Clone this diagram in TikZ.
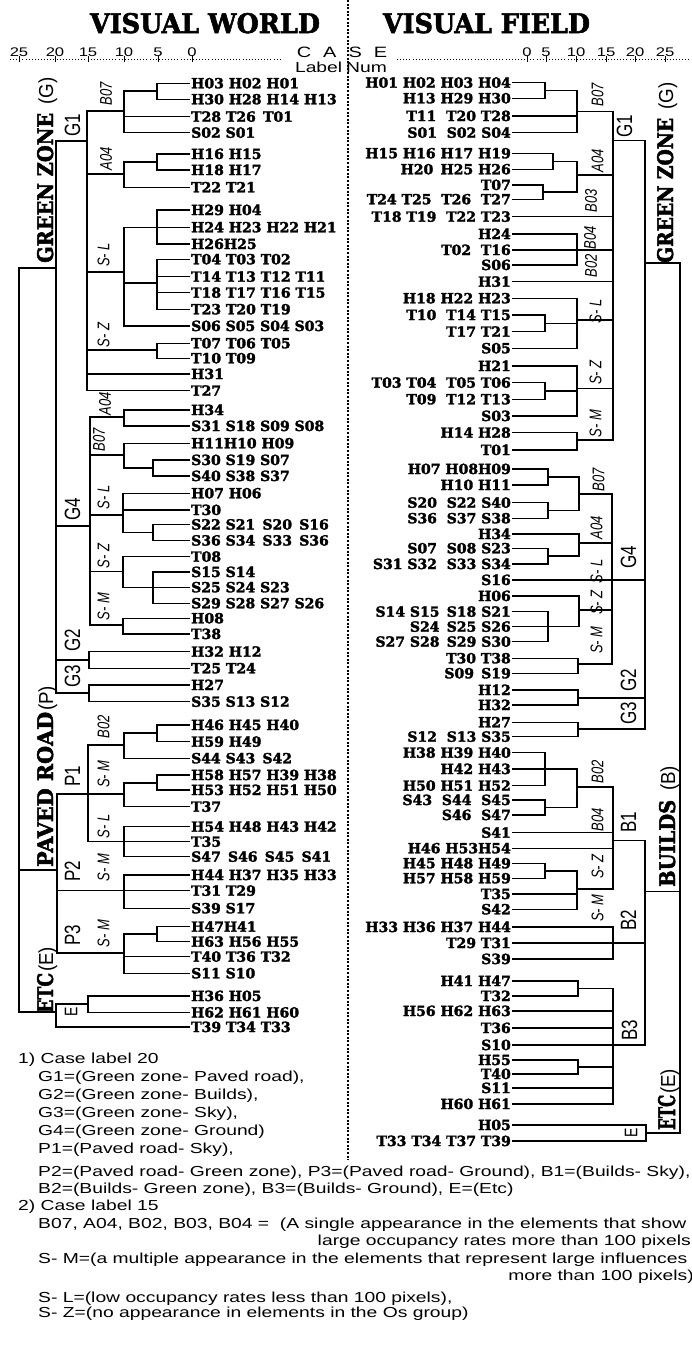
\documentclass[tikz,border=0pt]{standalone}
\usepackage{fontspec}
\usepackage{graphicx}
\newfontfamily\labfont{DejaVuSerif-Bold.ttf}[FakeBold=2.2]
\newfontfamily\sansfont{Liberation Sans}
\newfontfamily\sanswide{Liberation Sans}[FakeStretch=1.33]
\newcommand\VStr[1]{\scalebox{1}[1.3]{#1}}
\newcommand\Par[1]{\scalebox{1.25}[1.35]{\sansfont\fontsize{15}{15}\selectfont #1}}
\tikzset{
  lbl/.style={font=\labfont\fontsize{14}{14}\selectfont, inner sep=1pt, text height=10pt, text depth=0pt},
  lleaf/.style={lbl, anchor=west},
  rleaf/.style={lbl, anchor=east},
  ln/.style={line width=1.1pt, line join=miter},
  ita/.style={rotate=90, inner sep=0pt, font=\sansfont\itshape\fontsize{13}{13}\selectfont},
  grp/.style={rotate=90, inner sep=0pt, font=\sansfont\fontsize{17}{17}\selectfont},
  zone/.style={rotate=90, inner sep=0pt, anchor=base west},
  note/.style={inner sep=0pt, anchor=base west, font=\sanswide\fontsize{14.5}{14.5}\selectfont},
  notee/.style={note, anchor=base east},
  num/.style={inner sep=0pt, anchor=base, font=\sanswide\fontsize{12.5}{12.5}\selectfont},
  sep/.style={line width=1.3pt, dash pattern=on 2pt off 1.6pt},
  ruler/.style={line width=0.9pt, dash pattern=on 0.9pt off 2.2pt},
  tick/.style={line width=0.8pt}
}
\begin{document}
\begin{tikzpicture}[x=1pt,y=-1pt]
\useasboundingbox (0,0) rectangle (692,1352);
\fill[white] (0,0) rectangle (692,1352);
% titles
\node[inner sep=0pt, anchor=base] (tw) at (205,33) {\resizebox{230pt}{20pt}{\labfont VISUAL WORLD}};
\node[inner sep=0pt, anchor=base] (tf) at (486.5,33) {\resizebox{207pt}{20pt}{\labfont VISUAL FIELD}};
% separator
\coordinate (dtop) at (348,0);
\coordinate (dbot) at (348,1160);
\draw[sep] (dtop) -- (dbot);
% rulers
\coordinate (rl0) at (10,59); \coordinate (rl1) at (282,59);
\coordinate (rr0) at (397,59); \coordinate (rr1) at (692,59);
\draw[ruler] (rl0) -- (rl1);
\draw[ruler] (rr0) -- (rr1);
\foreach \x/\t [count=\i] in {19/25,55/20,88/15,124/10,158/5,192/0}{
  \node[num] (nl\i) at (\x,56) {\t};
  \draw[tick] (\x,56) -- (\x,62);
}
\foreach \x/\t [count=\i] in {527/0,546/5,576/10,606/15,635/20,665/25}{
  \node[num] (nr\i) at (\x,56) {\t};
  \draw[tick] (\x,56) -- (\x,62);
}
\node[inner sep=0pt, anchor=base, font=\sanswide\fontsize{15}{15}\selectfont] (case) at (342,57) {C\hspace{12pt}A\hspace{12pt}S\hspace{12pt}E};
\node[inner sep=0pt, anchor=base, font=\sanswide\fontsize{14.5}{14.5}\selectfont] (lnum) at (341,72) {Label\hspace{4pt}Num};

% ================= LEFT LEAVES =================
\node[lleaf] (a1) at (190,83.3) {H03 H02 H01};
\node[lleaf] (a2) at (190,99.3) {H30 H28 H14 H13};
\node[lleaf] (a3) at (190,116.7) {T28 T26 \,T01};
\node[lleaf] (a4) at (190,132.7) {S02 S01};
\node[lleaf] (a5) at (190,154) {H16 H15};
\node[lleaf] (a6) at (190,170) {H18 H17};
\node[lleaf] (a7) at (190,187.3) {T22 T21};
\node[lleaf] (a8) at (190,210) {H29 H04};
\node[lleaf] (a9) at (190,227.3) {H24 H23 H22 H21};
\node[lleaf] (a10) at (190,244) {H26H25};
\node[lleaf] (a11) at (190,259.3) {T04 T03 T02};
\node[lleaf] (a12) at (190,276.7) {T14 T13 T12 T11};
\node[lleaf] (a13) at (190,292.7) {T18 T17 T16 T15};
\node[lleaf] (a14) at (190,309.3) {T23 T20 T19};
\node[lleaf] (a15) at (190,326) {S06 S05 S04 S03};
\node[lleaf] (a16) at (190,343.3) {T07 T06 T05};
\node[lleaf] (a17) at (190,358.3) {T10 T09};
\node[lleaf] (a18) at (190,374) {H31};
\node[lleaf] (a19) at (190,390.7) {T27};
\node[lleaf] (a20) at (190,410) {H34};
\node[lleaf] (a21) at (190,426) {S31 S18 S09 S08};
\node[lleaf] (a22) at (190,443.3) {H11H10 H09};
\node[lleaf] (a23) at (190,460) {S30 S19 S07};
\node[lleaf] (a24) at (190,476) {S40 S38 S37};
\node[lleaf] (a25) at (190,493.3) {H07 H06};
\node[lleaf] (a26) at (190,510) {T30};
\node[lleaf] (a27) at (190,524.5) {S22 S21 \,S20 \,S16};
\node[lleaf] (a28) at (190,540.5) {S36 S34 \,S33 \,S36};
\node[lleaf] (a29) at (190,556.7) {T08};
\node[lleaf] (a30) at (190,572) {S15 S14};
\node[lleaf] (a31) at (190,587.3) {S25 S24 S23};
\node[lleaf] (a32) at (190,603.3) {S29 S28 S27 S26};
\node[lleaf] (a33) at (190,618.3) {H08};
\node[lleaf] (a34) at (190,634) {T38};
\node[lleaf] (a35) at (190,651.7) {H32 H12};
\node[lleaf] (a36) at (190,668.3) {T25 T24};
\node[lleaf] (a37) at (190,685) {H27};
\node[lleaf] (a38) at (190,701.7) {S35 S13 S12};
\node[lleaf] (a39) at (190,725) {H46 H45 H40};
\node[lleaf] (a40) at (190,741.7) {H59 H49};
\node[lleaf] (a41) at (190,758.3) {S44 S43 \,S42};
\node[lleaf] (a42) at (190,775) {H58 H57 H39 H38};
\node[lleaf] (a43) at (190,790) {H53 H52 H51 H50};
\node[lleaf] (a44) at (190,806.7) {T37};
\node[lleaf] (a45) at (190,826.7) {H54 H48 H43 H42};
\node[lleaf] (a46) at (190,841.7) {T35};
\node[lleaf] (a47) at (190,856.7) {S47 \,S46 \,S45 \,S41};
\node[lleaf] (a48) at (190,875) {H44 H37 H35 H33};
\node[lleaf] (a49) at (190,890.7) {T31 T29};
\node[lleaf] (a50) at (190,908.3) {S39 S17};
\node[lleaf] (a51) at (190,926.7) {H47H41};
\node[lleaf] (a52) at (190,941.7) {H63 H56 H55};
\node[lleaf] (a53) at (190,956.7) {T40 T36 T32};
\node[lleaf] (a54) at (190,973.3) {S11 S10};
\node[lleaf] (a55) at (190,996) {H36 H05};
\node[lleaf] (a56) at (190,1012.5) {H62 H61 H60};
\node[lleaf] (a57) at (190,1027) {T39 T34 T33};

% ================= LEFT JUNCTIONS =================
\coordinate (j1) at (157,91);
\coordinate (jB07) at (124,111);
\coordinate (jA1) at (157,162);
\coordinate (jA04) at (124,174);
\coordinate (jSL1) at (157,227.3);
\coordinate (jSL2) at (157,283);
\coordinate (jSL) at (124,272);
\coordinate (jSZ) at (157,350);
\coordinate (jG1) at (87,141);
\coordinate (jA04b) at (124,417);
\coordinate (jB1) at (153,468);
\coordinate (jB07b) at (124,455);
\coordinate (jSL1b) at (153,532.5);
\coordinate (jSLb) at (123,515);
\coordinate (jSZ1) at (153,587.3);
\coordinate (jSZb) at (123,571.7);
\coordinate (jSMb) at (123,625);
\coordinate (jG4) at (90,526);
\coordinate (jG2) at (89,660);
\coordinate (jG3) at (89,693);
\coordinate (jG) at (56,268);
\coordinate (jP1a) at (157,733);
\coordinate (jB02) at (124,745);
\coordinate (jP1b) at (157,783);
\coordinate (jSMp) at (124,794);
\coordinate (jSLp) at (124,841.7);
\coordinate (jP1) at (88,794);
\coordinate (jP2) at (124,890.7);
\coordinate (jP3a) at (157,934);
\coordinate (jP3) at (124,953);
\coordinate (jP) at (57,870);
\coordinate (jE1) at (88,1004);
\coordinate (jE) at (56,1012);
\coordinate (jR) at (19,870);

\draw[ln] (a1.west) -| (j1) (a2.west) -| (j1)
  (j1) -| (jB07) (a3.west) -| (jB07) (a4.west) -| (jB07)
  (a5.west) -| (jA1) (a6.west) -| (jA1)
  (jA1) -| (jA04) (a7.west) -| (jA04)
  (a8.west) -| (jSL1) (a9.west) -| (jSL1) (a10.west) -| (jSL1)
  (a11.west) -| (jSL2) (a12.west) -| (jSL2) (a13.west) -| (jSL2) (a14.west) -| (jSL2)
  (jSL1) -| (jSL) (jSL2) -| (jSL) (a15.west) -| (jSL)
  (a16.west) -| (jSZ) (a17.west) -| (jSZ)
  (jB07) -| (jG1) (jA04) -| (jG1) (jSL) -| (jG1) (jSZ) -| (jG1)
  (a18.west) -| (jG1) (a19.west) -| (jG1);
\draw[ln] (a20.west) -| (jA04b) (a21.west) -| (jA04b)
  (a23.west) -| (jB1) (a24.west) -| (jB1)
  (a22.west) -| (jB07b) (jB1) -| (jB07b)
  (a27.west) -| (jSL1b) (a28.west) -| (jSL1b)
  (a25.west) -| (jSLb) (a26.west) -| (jSLb) (jSL1b) -| (jSLb)
  (a30.west) -| (jSZ1) (a31.west) -| (jSZ1) (a32.west) -| (jSZ1)
  (a29.west) -| (jSZb) (jSZ1) -| (jSZb)
  (a33.west) -| (jSMb) (a34.west) -| (jSMb)
  (jA04b) -| (jG4) (jB07b) -| (jG4) (jSLb) -| (jG4) (jSZb) -| (jG4) (jSMb) -| (jG4)
  (a35.west) -| (jG2) (a36.west) -| (jG2)
  (a37.west) -| (jG3) (a38.west) -| (jG3)
  (jG1) -| (jG) (jG4) -| (jG) (jG2) -| (jG) (jG3) -| (jG);
\draw[ln] (a39.west) -| (jP1a) (a40.west) -| (jP1a)
  (jP1a) -| (jB02) (a41.west) -| (jB02)
  (a42.west) -| (jP1b) (a43.west) -| (jP1b)
  (jP1b) -| (jSMp) (a44.west) -| (jSMp)
  (a45.west) -| (jSLp) (a46.west) -| (jSLp) (a47.west) -| (jSLp)
  (jB02) -| (jP1) (jSMp) -| (jP1) (jSLp) -| (jP1)
  (a48.west) -| (jP2) (a49.west) -| (jP2) (a50.west) -| (jP2)
  (a51.west) -| (jP3a) (a52.west) -| (jP3a)
  (jP3a) -| (jP3) (a53.west) -| (jP3) (a54.west) -| (jP3)
  (jP1) -| (jP) (jP2) -| (jP) (jP3) -| (jP)
  (a55.west) -| (jE1) (a56.west) -| (jE1)
  (jE1) -| (jE) (a57.west) -| (jE)
  (jG) -| (jR) (jP) -| (jR) (jE) -| (jR);

% left labels
\node[ita] (li1) at (106,93.5) {\VStr{B07}};
\node[ita] (li2) at (106,158.5) {\VStr{A04}};
\node[ita] (li3) at (103.5,255) {\VStr{S- L}};
\node[ita] (li4) at (103.5,335) {\VStr{S- Z}};
\node[ita] (li5) at (105,404) {\VStr{A04}};
\node[ita] (li6) at (99,440) {\VStr{B07}};
\node[ita] (li7) at (103.5,497.5) {\VStr{S- L}};
\node[ita] (li8) at (103.5,556) {\VStr{S- Z}};
\node[ita] (li9) at (103.5,606.5) {\VStr{S- M}};
\node[ita] (li10) at (103.5,726.5) {\VStr{B02}};
\node[ita] (li11) at (103.5,774) {\VStr{S- M}};
\node[ita] (li12) at (103.5,826.5) {\VStr{S- L}};
\node[ita] (li13) at (103.5,867.5) {\VStr{S- M}};
\node[ita] (li14) at (103.5,933.5) {\VStr{S- M}};
\node[grp] (lg1) at (72.5,125) {\VStr{G1}};
\node[grp] (lg4) at (72.5,509.5) {\VStr{G4}};
\node[grp] (lg2) at (72.5,640.5) {\VStr{G2}};
\node[grp] (lg3) at (72.5,676.5) {\VStr{G3}};
\node[grp] (lp1) at (72.5,776) {\VStr{P1}};
\node[grp] (lp2) at (72.5,871) {\VStr{P2}};
\node[grp] (lp3) at (72.5,935) {\VStr{P3}};
\node[grp, font=\sansfont\fontsize{14}{14}\selectfont] (le) at (71,1012) {\VStr{E}};
\node[zone] (lzg) at (53,263) {\resizebox{150pt}{16pt}{\labfont GREEN ZONE}\hspace{8pt}\Par{(G)}};
\node[zone] (lzp) at (53,867) {\resizebox{155pt}{16pt}{\labfont PAVED ROAD}\hspace{1pt}\Par{(P)}};
\node[zone] (lze) at (53,1013) {\resizebox{40pt}{16pt}{\labfont ETC}\hspace{1pt}\Par{(E)}};

% ================= RIGHT LEAVES =================
\node[rleaf] (b1) at (512,82.7) {H01 H02 H03 H04};
\node[rleaf] (b2) at (512,98.3) {H13 H29 H30};
\node[rleaf] (b3) at (512,116) {T11 \ T20 T28};
\node[rleaf] (b4) at (512,132.7) {S01 \ S02 S04};
\node[rleaf] (b5) at (512,153.3) {H15 H16 H17 H19};
\node[rleaf] (b6) at (512,169.3) {H20 \,H25 H26};
\node[rleaf] (b7) at (512,185) {T07};
\node[rleaf] (b8) at (512,199.3) {T24 T25 \ T26 \ T27};
\node[rleaf] (b9) at (512,216.7) {T18 T19 \ T22 T23};
\node[rleaf] (b10) at (512,234) {H24};
\node[rleaf] (b11) at (512,250) {T02 \ T16};
\node[rleaf] (b12) at (512,265) {S06};
\node[rleaf] (b13) at (512,281.7) {H31};
\node[rleaf] (b14) at (512,298.3) {H18 H22 H23};
\node[rleaf] (b15) at (512,315) {T10 \ T14 T15};
\node[rleaf] (b16) at (512,331.7) {T17 T21};
\node[rleaf] (b17) at (512,348.3) {S05};
\node[rleaf] (b18) at (512,366) {H21};
\node[rleaf] (b19) at (512,382.7) {T03 T04 \ T05 T06};
\node[rleaf] (b20) at (512,399.3) {T09 \ T12 T13};
\node[rleaf] (b21) at (512,416) {S03};
\node[rleaf] (b22) at (512,432.7) {H14 H28};
\node[rleaf] (b23) at (512,450) {T01};
\node[rleaf] (b24) at (512,469) {H07 H08H09};
\node[rleaf] (b25) at (512,485) {H10 H11};
\node[rleaf] (b26) at (512,502.7) {S20 \ S22 S40};
\node[rleaf] (b27) at (512,518.3) {S36 \ S37 S38};
\node[rleaf] (b28) at (512,534) {H34};
\node[rleaf] (b29) at (512,548.3) {S07 \ S08 S23};
\node[rleaf] (b30) at (512,564) {S31 S32 \ S33 S34};
\node[rleaf] (b31) at (512,580) {S16};
\node[rleaf] (b32) at (512,596) {H06};
\node[rleaf] (b33) at (512,611.7) {S14 S15 \,S18 S21};
\node[rleaf] (b34) at (512,626.7) {S24 \,S25 S26};
\node[rleaf] (b35) at (512,641.7) {S27 S28 \,S29 S30};
\node[rleaf] (b36) at (512,658.3) {T30 T38};
\node[rleaf] (b37) at (512,673.3) {S09 \,S19};
\node[rleaf] (b38) at (512,690) {H12};
\node[rleaf] (b39) at (512,705) {H32};
\node[rleaf] (b40) at (512,722.3) {H27};
\node[rleaf] (b41) at (512,736.7) {S12 \ S13 S35};
\node[rleaf] (b42) at (512,752.7) {H38 H39 H40};
\node[rleaf] (b43) at (512,769) {H42 H43};
\node[rleaf] (b44) at (512,785.7) {H50 H51 H52};
\node[rleaf] (b45) at (512,800) {S43 \ S44 \ S45};
\node[rleaf] (b46) at (512,815) {S46 \ S47};
\node[rleaf] (b47) at (512,832.7) {S41};
\node[rleaf] (b48) at (512,848.3) {H46 H53H54};
\node[rleaf] (b49) at (512,863.3) {H45 H48 H49};
\node[rleaf] (b50) at (512,878.3) {H57 H58 H59};
\node[rleaf] (b51) at (512,894) {T35};
\node[rleaf] (b52) at (512,909.3) {S42};
\node[rleaf] (b53) at (512,927) {H33 H36 H37 H44};
\node[rleaf] (b54) at (512,943) {T29 T31};
\node[rleaf] (b55) at (512,959) {S39};
\node[rleaf] (b56) at (512,981) {H41 H47};
\node[rleaf] (b57) at (512,996) {T32};
\node[rleaf] (b58) at (512,1011) {H56 H62 H63};
\node[rleaf] (b59) at (512,1028) {T36};
\node[rleaf] (b60) at (512,1045) {S10};
\node[rleaf] (b61) at (512,1060) {H55};
\node[rleaf] (b62) at (512,1074) {T40};
\node[rleaf] (b63) at (512,1088) {S11};
\node[rleaf] (b64) at (512,1104) {H60 H61};
\node[rleaf] (b65) at (512,1125) {H05};
\node[rleaf] (b66) at (512,1141) {T33 T34 T37 T39};

% ================= RIGHT JUNCTIONS =================
\coordinate (k1) at (545,90.5);
\coordinate (kB07) at (577,111.7);
\coordinate (k2) at (553,161.3);
\coordinate (k3) at (543,192);
\coordinate (kA04) at (577,175);
\coordinate (kB04) at (577,250);
\coordinate (k4) at (545,323.3);
\coordinate (kSL) at (577,320);
\coordinate (k5) at (545,391);
\coordinate (kSZ) at (577,388.3);
\coordinate (kSM) at (577,440);
\coordinate (kG1) at (613,140.7);
\coordinate (k6) at (548,477);
\coordinate (k7) at (548,510.5);
\coordinate (kB07b) at (579,494);
\coordinate (k8) at (548,556);
\coordinate (kA04b) at (579,543);
\coordinate (k9) at (548,626.7);
\coordinate (kSZb) at (579,610);
\coordinate (kSMb) at (578,664);
\coordinate (kG4) at (612,580);
\coordinate (kG2) at (578,698);
\coordinate (kG3) at (578,729);
\coordinate (kG) at (645,263);
\coordinate (k10) at (545,769);
\coordinate (k11) at (545,807.5);
\coordinate (kB02) at (577,787);
\coordinate (k12) at (545,871);
\coordinate (kSZr) at (577,889);
\coordinate (kB1) at (613,840.7);
\coordinate (kB2) at (613,943);
\coordinate (k13) at (578,988.5);
\coordinate (k14) at (578,1067);
\coordinate (kB3) at (613,1045);
\coordinate (kB) at (645,891.7);
\coordinate (kE) at (646,1133);
\coordinate (kR) at (680,891.7);

\draw[ln] (b1.east) -| (k1) (b2.east) -| (k1)
  (k1) -| (kB07) (b3.east) -| (kB07) (b4.east) -| (kB07)
  (b5.east) -| (k2) (b6.east) -| (k2)
  (b7.east) -| (k3) (b8.east) -| (k3)
  (k2) -| (kA04) (k3) -| (kA04)
  (b10.east) -| (kB04) (b12.east) -| (kB04)
  (b15.east) -| (k4) (b16.east) -| (k4)
  (b14.east) -| (kSL) (k4) -| (kSL) (b17.east) -| (kSL)
  (b19.east) -| (k5) (b20.east) -| (k5)
  (b18.east) -| (kSZ) (k5) -| (kSZ) (b21.east) -| (kSZ)
  (b22.east) -| (kSM) (b23.east) -| (kSM)
  (kB07) -| (kG1) (kA04) -| (kG1) (b9.east) -| (kG1) (kB04) -| (kG1)
  (b11.east) -| (kG1) (b13.east) -| (kG1) (kSL) -| (kG1) (kSZ) -| (kG1) (kSM) -| (kG1);
\draw[ln] (b24.east) -| (k6) (b25.east) -| (k6)
  (b26.east) -| (k7) (b27.east) -| (k7)
  (k6) -| (kB07b) (k7) -| (kB07b)
  (b29.east) -| (k8) (b30.east) -| (k8)
  (b28.east) -| (kA04b) (k8) -| (kA04b)
  (b33.east) -| (k9) (b35.east) -| (k9)
  (b32.east) -| (kSZb) (b34.east) -| (kSZb) (k9) -| (kSZb)
  (b36.east) -| (kSMb) (b37.east) -| (kSMb)
  (kB07b) -| (kG4) (kA04b) -| (kG4) (kSZb) -| (kG4) (kSMb) -| (kG4)
  (b38.east) -| (kG2) (b39.east) -| (kG2)
  (b40.east) -| (kG3) (b41.east) -| (kG3)
  (kG1) -| (kG) (kG4) -| (kG) (b31.east) -| (kG) (kG2) -| (kG) (kG3) -| (kG);
\draw[ln] (b42.east) -| (k10) (b43.east) -| (k10) (b44.east) -| (k10)
  (b45.east) -| (k11) (b46.east) -| (k11)
  (k10) -| (kB02) (k11) -| (kB02)
  (b49.east) -| (k12) (b50.east) -| (k12)
  (k12) -| (kSZr) (b51.east) -| (kSZr) (b52.east) -| (kSZr)
  (kB02) -| (kB1) (b47.east) -| (kB1) (b48.east) -| (kB1) (kSZr) -| (kB1)
  (b53.east) -| (kB2) (b54.east) -| (kB2) (b55.east) -| (kB2)
  (b56.east) -| (k13) (b57.east) -| (k13)
  (b61.east) -| (k14) (b62.east) -| (k14)
  (k13) -| (kB3) (b58.east) -| (kB3) (b59.east) -| (kB3) (k14) -| (kB3)
  (b63.east) -| (kB3) (b64.east) -| (kB3)
  (kB1) -| (kB) (kB2) -| (kB) (kB3) -| (kB) (b60.east) -| (kB)
  (b65.east) -| (kE) (b66.east) -| (kE)
  (kG) -| (kR) (kB) -| (kR) (kE) -| (kR);

% right labels
\node[ita] (ri1) at (597.5,95) {\VStr{B07}};
\node[ita] (ri2) at (597.5,160.5) {\VStr{A04}};
\node[ita] (ri3) at (591,200.5) {\VStr{B03}};
\node[ita] (ri4) at (590,238) {\VStr{B04}};
\node[ita] (ri5) at (591,266) {\VStr{B02}};
\node[ita] (ri6) at (595.5,311.5) {\VStr{S- L}};
\node[ita] (ri7) at (595.5,372.5) {\VStr{S- Z}};
\node[ita] (ri8) at (595.5,423.5) {\VStr{S- M}};
\node[ita] (ri9) at (598.5,479.5) {\VStr{B07}};
\node[ita] (ri10) at (596.5,527.5) {\VStr{A04}};
\node[ita] (ri11) at (596.5,571.5) {\VStr{S- L}};
\node[ita] (ri12) at (596.5,602.5) {\VStr{S- Z}};
\node[ita] (ri13) at (596.5,640) {\VStr{S- M}};
\node[ita] (ri14) at (597.5,771.5) {\VStr{B02}};
\node[ita] (ri15) at (597.5,820) {\VStr{B04}};
\node[ita] (ri16) at (597.5,866.5) {\VStr{S- Z}};
\node[ita] (ri17) at (597.5,908) {\VStr{S- M}};
\node[grp] (rg1) at (624.5,126.5) {\VStr{G1}};
\node[grp] (rg4) at (628.5,557.5) {\VStr{G4}};
\node[grp] (rg2) at (628.5,680) {\VStr{G2}};
\node[grp] (rg3) at (628.5,713.5) {\VStr{G3}};
\node[grp] (rb1) at (628.5,822) {\VStr{B1}};
\node[grp] (rb2) at (628.5,920) {\VStr{B2}};
\node[grp] (rb3) at (629.5,1030) {\VStr{B3}};
\node[grp, font=\sansfont\fontsize{14}{14}\selectfont] (re) at (631,1133) {\VStr{E}};
\node[zone] (rzg) at (673,263) {\resizebox{145pt}{16pt}{\labfont GREEN ZONE}\hspace{8pt}\Par{(G)}};
\node[zone] (rzb) at (675,887) {\resizebox{87pt}{16pt}{\labfont BUILDS}\hspace{9pt}\Par{(B)}};
\node[zone] (rze) at (675,1130) {\resizebox{35pt}{17pt}{\labfont ETC}\hspace{1pt}\Par{(E)}};

% ================= NOTES =================
\node[note] (n1) at (18,1063) {1) Case label 20};
\node[note] (n2) at (38,1081) {G1=(Green zone- Paved road),};
\node[note] (n3) at (38,1099) {G2=(Green zone- Builds),};
\node[note] (n4) at (38,1117) {G3=(Green zone- Sky),};
\node[note] (n5) at (38,1135) {G4=(Green zone- Ground)};
\node[note] (n6) at (38,1153) {P1=(Paved road- Sky),};
\node[note] (n7) at (38,1176) {P2=(Paved road- Green zone), P3=(Paved road- Ground), B1=(Builds- Sky),};
\node[note] (n8) at (38,1193) {B2=(Builds- Green zone), B3=(Builds- Ground), E=(Etc)};
\node[note] (n9) at (18,1210) {2) Case label 15};
\node[note] (n10) at (38,1228) {B07, A04, B02, B03, B04 = \ (A single appearance in the elements that show};
\node[notee] (n11) at (691,1245) {large occupancy rates more than 100 pixels};
\node[note] (n12) at (38,1263) {S- M=(a multiple appearance in the elements that represent large influences};
\node[notee] (n13) at (694,1280) {more than 100 pixels)};
\node[note] (n14) at (38,1302) {S- L=(low occupancy rates less than 100 pixels),};
\node[note] (n15) at (38,1317) {S- Z=(no appearance in elements in the Os group)};
\end{tikzpicture}
\end{document}
